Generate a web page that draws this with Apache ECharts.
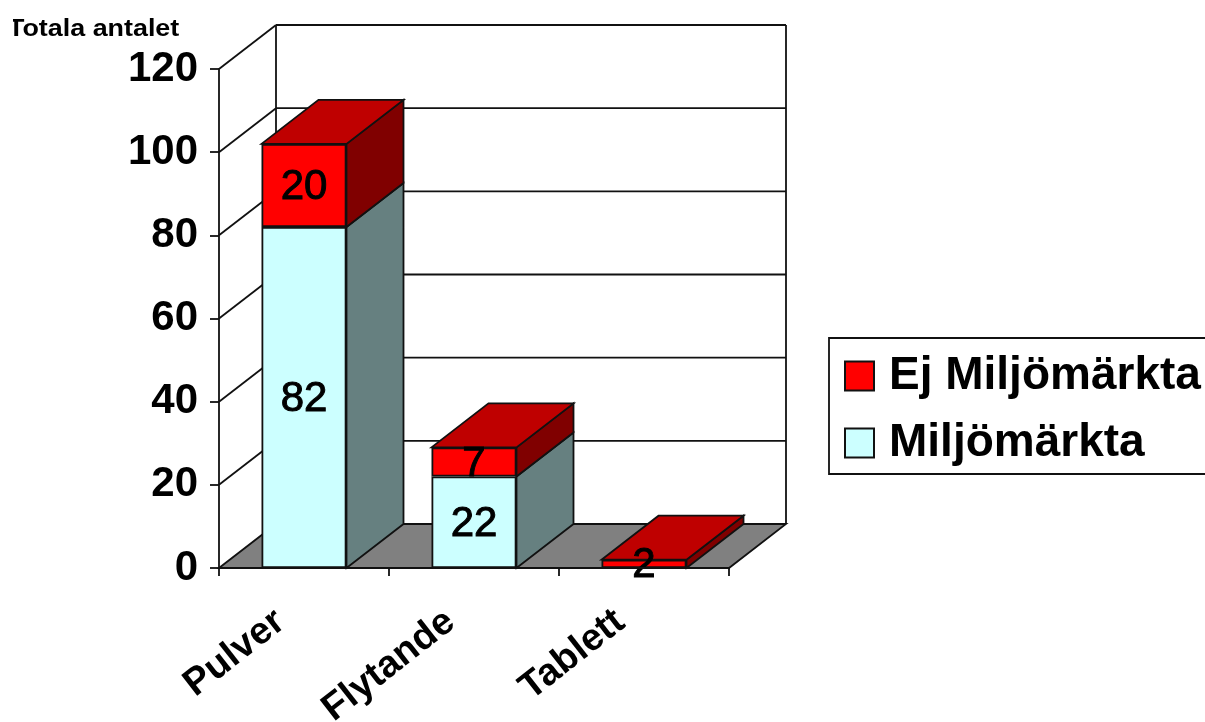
<!DOCTYPE html>
<html><head><meta charset="utf-8">
<style>html,body{margin:0;padding:0;background:#fff}#c{width:1205px;height:722px}</style>
<script src="https://cdn.jsdelivr.net/npm/echarts@6/dist/echarts.min.js"></script>
</head><body><div id="c"></div>
<script>
const categories = ['Pulver', 'Flytande', 'Tablett'];
const miljomarkta = [82, 22, 0];
const ejMiljomarkta = [20, 7, 2];
const axisTicks = [0, 20, 40, 60, 80, 100, 120];
const axisTitle = 'Totala antalet';

const FONT = '"Liberation Sans", Arial, sans-serif';
const DX = 57, DY = -44, LW = 1.8;

function poly(points, fill) {
  return { type: 'polygon', shape: { points }, style: { fill, stroke: '#111', lineWidth: LW } };
}
function line(x1, y1, x2, y2) {
  return { type: 'line', shape: { x1, y1, x2, y2 }, style: { stroke: '#111', lineWidth: LW } };
}

function renderWalls(params, api) {
  const cs = params.coordSys;
  const v = api.value(0);
  const y = api.coord([0, v])[1];
  const L = cs.x, R = cs.x + cs.width;
  const kids = [];
  if (v === 0) {
    kids.push(poly([[L, y], [L + DX, y + DY], [R + DX, y + DY], [R, y]], '#808080'));
    kids.push(line(L + DX, cs.y + DY, L + DX, y + DY));
    kids.push(line(R + DX, cs.y + DY, R + DX, y + DY));
  } else {
    kids.push(line(L, y, L + DX, y + DY));
    kids.push(line(L + DX, y + DY, R + DX, y + DY));
  }
  return { type: 'group', children: kids };
}

function render3D(params, api) {
  const i = api.value(0), lo = api.value(1), hi = api.value(2);
  const isTop = api.value(3) === 1;
  if (hi <= lo) return null;
  const w = api.size([1, 0])[0] * 0.5;
  const c0 = api.coord([i, lo]), c1 = api.coord([i, hi]);
  const x0 = c0[0] - w / 2, x1 = c0[0] + w / 2;
  const kids = [];
  kids.push(poly([[x1, c0[1]], [x1 + DX, c0[1] + DY], [x1 + DX, c1[1] + DY], [x1, c1[1]]], isTop ? '#800000' : '#668080'));
  if (isTop) {
    kids.push(poly([[x0, c1[1]], [x0 + DX, c1[1] + DY], [x1 + DX, c1[1] + DY], [x1, c1[1]]], '#bf0000'));
  }
  return { type: 'group', children: kids };
}

const depthData = [];
categories.forEach((c, i) => {
  depthData.push([i, 0, miljomarkta[i], 0]);
  depthData.push([i, miljomarkta[i], miljomarkta[i] + ejMiljomarkta[i], 1]);
});

const barLabel = {
  show: true, position: 'inside', offset: [0, 2], color: '#000', fontFamily: FONT, fontSize: 42, fontWeight: 'normal',
  textBorderColor: '#000', textBorderWidth: 1,
  formatter: p => (p.value ? String(p.value) : '')
};

const chart = echarts.init(document.getElementById('c'), null, { renderer: 'canvas' });
chart.setOption({
  animation: false,
  backgroundColor: '#fff',
  grid: { left: 219, top: 69, width: 510, height: 499, containLabel: false, outerBoundsMode: 'none' },
  xAxis: {
    type: 'category', data: categories,
    axisLine: { lineStyle: { color: '#111', width: LW } },
    axisTick: { show: true, length: 8, lineStyle: { color: '#111', width: LW } },
    axisLabel: { rotate: 38, margin: 31, padding: [0, 30, 0, 0], color: '#000', fontFamily: FONT, fontSize: 38, fontWeight: 'bold', interval: 0 },
    z: 5
  },
  yAxis: {
    type: 'value', min: axisTicks[0], max: axisTicks[axisTicks.length - 1], interval: 20,
    axisLine: { show: true, lineStyle: { color: '#111', width: LW } },
    axisTick: { show: true, length: 9, lineStyle: { color: '#111', width: LW } },
    axisLabel: { margin: 21, color: '#000', fontFamily: FONT, fontSize: 42, fontWeight: 'bold' },
    splitLine: { show: false },
    z: 5
  },
  legend: {
    orient: 'vertical', left: 829, top: 338,
    data: ['Ej Miljömärkta', 'Miljömärkta'],
    backgroundColor: '#fff', borderColor: '#111', borderWidth: LW,
    padding: [15, 30, 8, 15], itemWidth: 29, itemHeight: 29, itemGap: 21,
    icon: 'rect',
    textStyle: { color: '#000', fontFamily: FONT, fontSize: 46, fontWeight: 'bold', padding: [4, 0, 0, 10] }
  },
  graphic: [
    { type: 'text', left: 8, top: 17, z: 100, scaleX: 1.12, originX: 0,
      style: { text: axisTitle, fill: '#000', font: 'bold 24px ' + FONT } },
    { type: 'rect', left: 0, top: 10, z: 101, shape: { width: 13, height: 30 }, style: { fill: '#fff' } }
  ],
  series: [
    { type: 'custom', silent: true, z: 1, renderItem: renderWalls, data: axisTicks.map(v => [v]), encode: { y: 0 } },
    { type: 'custom', silent: true, z: 2, renderItem: render3D, data: depthData, encode: { x: 0, y: 2 } },
    { name: 'Miljömärkta', type: 'bar', stack: 't', z: 3, barWidth: '50%', data: miljomarkta,
      itemStyle: { color: '#ccffff', borderColor: '#111', borderWidth: LW }, label: barLabel },
    { name: 'Ej Miljömärkta', type: 'bar', stack: 't', z: 3, barWidth: '50%', data: ejMiljomarkta,
      itemStyle: { color: '#ff0000', borderColor: '#111', borderWidth: LW }, label: barLabel }
  ]
});
</script></body></html>
